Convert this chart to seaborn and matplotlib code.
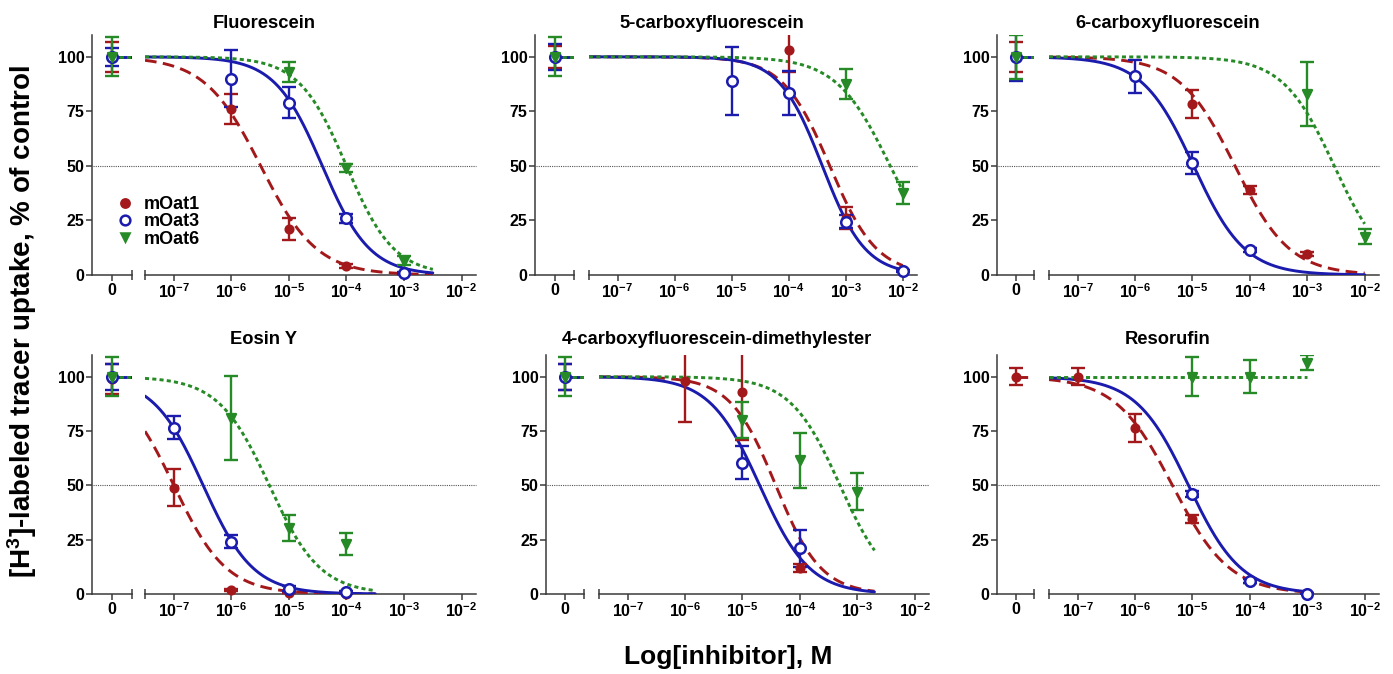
import numpy as np
import pandas as pd
import matplotlib
matplotlib.use("Agg")
import matplotlib.pyplot as plt
from matplotlib.lines import Line2D
from matplotlib.transforms import blended_transform_factory
import seaborn as sns

# ── Data ──────────────────────────────────────────────────
TITLES = ["Fluorescein", "5-carboxyfluorescein", "6-carboxyfluorescein",
          "Eosin Y", "4-carboxyfluorescein-dimethylester", "Resorufin"]
TRANSPORTERS = ["mOat1", "mOat3", "mOat6"]
XTICK_LOG = [-7, -6, -5, -4, -3, -2]

# log10 [inhibitor] of measured points, per panel
OAT1_LOGC = [[-6, -5, -4, -3], [-4, -3], [-5, -4, -3], [-7, -6, -5, -4],
             [-6, -5, -4], [-7, -6, -5, -4, -3]]
OAT1_MEAN = [[76, 21, 4, 0.5], [103, 26], [78.5, 39, 9.5], [49, 2, 0.3, 0.2],
             [98, 93, 12], [100, 76.5, 34.5, 6, 0.3]]
OAT1_ERR = [[7, 5, 1, 0], [10, 5], [6.5, 2, 1], [8.5, 0.5, 0, 0],
            [19, 22, 2], [4, 6.5, 2, 1, 0]]
OAT1_ZERO = [100, 100, 100, 99, 100, 100]
OAT1_ZERO_ERR = [7, 5, 7, 7, 6, 4]
OAT1_LOGIC50 = [-5.49, -3.28, -4.26, -7.0, -4.42, -5.35]
OAT1_HILL = [0.89, 1.05, 0.91, 0.95, 1.1, 0.87]

OAT3_LOGC = [[-6, -5, -4, -3], [-5, -4, -3, -2], [-6, -5, -4], [-7, -6, -5, -4],
             [-5, -4], [-5, -4, -3]]
OAT3_MEAN = [[90, 79, 26, 1], [89, 83.5, 24.5, 2], [91, 51.5, 11.5],
             [76.5, 24, 2.5, 1], [60.5, 21], [46, 6, 0.2]]
OAT3_ERR = [[13, 7, 2, 0.5], [15.5, 10, 3, 0.5], [7.5, 5, 1],
            [5.3, 3, 1, 0.5], [7.8, 8.5], [1.5, 1, 0]]
OAT3_ZERO = [100, 100, 100, 100, 100, None]
OAT3_ZERO_ERR = [4, 6, 11, 6, 6, 0]
OAT3_LOGIC50 = [-4.42, -3.41, -4.98, -6.49, -4.70, -5.07]
OAT3_HILL = [1.05, 1.15, 0.97, 1.0, 1.0, 0.95]

OAT6_LOGC = [[-5, -4, -3], [-3, -2], [-3, -2], [-6, -5, -4], [-5, -4, -3],
             [-5, -4, -3]]
OAT6_MEAN = [[93, 49, 6.5], [87.5, 37.5], [83, 17.5], [81, 30.5, 23],
             [80, 61.5, 47], [100, 100, 106.5]]
OAT6_ERR = [[4.5, 2, 2], [7, 5], [14.5, 3.5], [19.5, 6, 5], [8.4, 12.8, 8.5],
            [9, 7.5, 3.5]]
OAT6_ZERO = [100, 100, 100, 100, 100, None]
OAT6_ZERO_ERR = [9, 9, 10, 9, 9, 0]
OAT6_LOGIC50 = [-4.0, -2.22, -2.53, -5.34, -3.3, np.inf]   # inf = no inhibition
OAT6_HILL = [1.05, 0.92, 0.97, 0.98, 1.0, 1.0]

CURVE_START = -7.5
CURVE_END = [-2.5, -2.0, -2.0, -3.5, -2.7, -3.0]

SERIES = {
    "mOat1": (OAT1_LOGC, OAT1_MEAN, OAT1_ERR, OAT1_ZERO, OAT1_ZERO_ERR, OAT1_LOGIC50, OAT1_HILL),
    "mOat3": (OAT3_LOGC, OAT3_MEAN, OAT3_ERR, OAT3_ZERO, OAT3_ZERO_ERR, OAT3_LOGIC50, OAT3_HILL),
    "mOat6": (OAT6_LOGC, OAT6_MEAN, OAT6_ERR, OAT6_ZERO, OAT6_ZERO_ERR, OAT6_LOGIC50, OAT6_HILL),
}

# ── Style ─────────────────────────────────────────────────
COLORS = {"mOat1": "#A3191B", "mOat3": "#1B1BAE", "mOat6": "#268A26"}
DASHES = {"mOat1": (4, 2.2), "mOat3": "", "mOat6": (1.4, 1.1)}
MARKERS = {"mOat1": "o", "mOat3": "o", "mOat6": "v"}
SIZES = {"mOat1": 30, "mOat3": 58, "mOat6": 40}

sns.set_style("ticks")
plt.rcParams["font.family"] = ["Liberation Sans", "DejaVu Sans"]
plt.rcParams["font.weight"] = "bold"
plt.rcParams["text.color"] = "black"
plt.rcParams["xtick.labelcolor"] = "black"
plt.rcParams["ytick.labelcolor"] = "black"
plt.rcParams["mathtext.fontset"] = "custom"
plt.rcParams["mathtext.rm"] = "Liberation Sans:bold"
plt.rcParams["mathtext.it"] = "Liberation Sans:bold"
plt.rcParams["mathtext.bf"] = "Liberation Sans:bold"
plt.rcParams["mathtext.default"] = "rm"

W, H = 1393, 674
# pixel layout: (top of y=110, y=0) per row; (zero-axis left, right, log left, right) per panel
ROW_Y = [(35, 275), (355, 594)]
COL_X = [[(92, 132, 145, 476), (535, 574, 589, 917), (997, 1034, 1049, 1379)],
         [(92, 132, 145, 476), (546, 584, 599, 929), (997, 1034, 1049, 1379)]]
TITLE_X = [[264, 712, 1168], [264, 717, 1168]]
TITLE_Y = [23, 340]
SPINE_C = "#3a3a3a"


def hill(logc, logic50, slope, top=100.0, bottom=0.0):
    return bottom + (top - bottom) / (1 + 10 ** ((logc - logic50) * slope))


def box(x0, x1, ytop, ybot):
    return [x0 / W, 1 - ybot / H, (x1 - x0) / W, (ybot - ytop) / H]


def style_axis(ax):
    sns.despine(ax=ax)
    for s in ("left", "bottom"):
        ax.spines[s].set_color(SPINE_C)
        ax.spines[s].set_linewidth(1.1)
    ax.tick_params(which="major", labelsize=11.5, width=1.1, length=4,
                   color=SPINE_C, labelcolor="black", pad=1.5)
    ax.tick_params(which="minor", direction="inout", width=1.1, length=7,
                   color=SPINE_C)
    ax.set_xlabel("")
    ax.set_ylabel("")


fig = plt.figure(figsize=(W / 100, H / 100), dpi=100)

for p, title in enumerate(TITLES):
    r, c = divmod(p, 3)
    ytop, ybot = ROW_Y[r]
    zx0, zx1, lx0, lx1 = COL_X[r][c]
    ax0 = fig.add_axes(box(zx0, zx1, ytop, ybot))
    ax1 = fig.add_axes(box(lx0, lx1, ytop, ybot))

    # fitted curves on the log segment
    curves = []
    for name in TRANSPORTERS:
        lc, mean, err, z, zerr, ic50, hs = SERIES[name]
        xs = np.linspace(CURVE_START, CURVE_END[p], 300)
        curves.append(pd.DataFrame({"logc": xs,
                                    "uptake": hill(xs, ic50[p], hs[p]),
                                    "transporter": name}))
    curves = pd.concat(curves, ignore_index=True)
    sns.lineplot(data=curves, x="logc", y="uptake", hue="transporter",
                 style="transporter", hue_order=TRANSPORTERS,
                 style_order=TRANSPORTERS, palette=COLORS, dashes=DASHES,
                 linewidth=2.1, estimator=None, sort=False, legend=False,
                 ax=ax1, zorder=3)

    for k, name in enumerate(TRANSPORTERS):
        lc, mean, err, z, zerr, ic50, hs = SERIES[name]
        col = COLORS[name]
        face = "white" if name == "mOat3" else col
        # points on the log segment
        ax1.errorbar(lc[p], mean[p], yerr=err[p], fmt="none", ecolor=col,
                     elinewidth=1.7, capsize=5, capthick=1.7, zorder=4 + k)
        sns.scatterplot(x=lc[p], y=mean[p], marker=MARKERS[name], s=SIZES[name],
                        color=col, facecolor=face, edgecolor=col,
                        linewidth=1.8, ax=ax1, zorder=7 + k, clip_on=False)
        # control (x = 0) segment
        if z[p] is not None:
            ax0.plot([0, 1], [hill(-12, ic50[p], hs[p])] * 2, color=col,
                     lw=2.1, dashes=DASHES[name] if DASHES[name] else (None, None),
                     zorder=3)
            ax0.errorbar([0], [z[p]], yerr=[zerr[p]], fmt="none", ecolor=col,
                         elinewidth=1.7, capsize=5, capthick=1.7, zorder=4 + k)
            sns.scatterplot(x=[0], y=[z[p]], marker=MARKERS[name], s=SIZES[name],
                            color=col, facecolor=face, edgecolor=col,
                            linewidth=1.8, ax=ax0, zorder=7 + k, clip_on=False)

    # axes
    ax0.set_xlim(-1, 1)
    ax1.set_xlim(-7.5, -1.75)
    for ax in (ax0, ax1):
        ax.set_ylim(0, 110)
        style_axis(ax)
    ax0.set_yticks([0, 25, 50, 75, 100])
    ax0.set_xticks([0])
    ax0.set_xticklabels(["0"])
    ax0.set_xticks([1], minor=True)
    ax1.set_xticks(XTICK_LOG)
    ax1.set_xticklabels([f"$10^{{{v}}}$" for v in XTICK_LOG])
    ax1.set_xticks([-7.5], minor=True)
    ax1.set_yticks([])
    ax1.spines["left"].set_visible(False)
    ax1.patch.set_alpha(0)

    # 50 % reference line across the whole panel
    trans = blended_transform_factory(fig.transFigure, ax0.transData)
    ax0.plot([zx0 / W + 0.001, lx1 / W], [50, 50], transform=trans, clip_on=False,
             color="#555555", lw=0.8, ls=(0, (1, 1)), zorder=1)

    fig.text(TITLE_X[r][c] / W, 1 - TITLE_Y[r] / H, title, ha="center",
             va="center", fontsize=13.2, fontweight="bold")

# legend
handles = [Line2D([], [], ls="none", marker=MARKERS[n], markersize=6 if n != "mOat3" else 7,
                  color=COLORS[n], markerfacecolor="white" if n == "mOat3" else COLORS[n],
                  markeredgewidth=1.8) for n in TRANSPORTERS]
fig.legend(handles, TRANSPORTERS, loc="upper left",
           bbox_to_anchor=(116 / W, 1 - 196 / H), frameon=False, fontsize=13,
           handlelength=1.0, handletextpad=0.55, labelspacing=0.02,
           borderpad=0, borderaxespad=0)

fig.text(22 / W, 1 - 322 / H, "[H$^3$]-labeled tracer uptake, % of control",
         rotation=90, ha="center", va="center", fontsize=20, fontweight="bold")
fig.text(728 / W, 1 - 657 / H, "Log[inhibitor], M", ha="center", va="center",
         fontsize=19, fontweight="bold")

fig.savefig("out.png", dpi=100)
